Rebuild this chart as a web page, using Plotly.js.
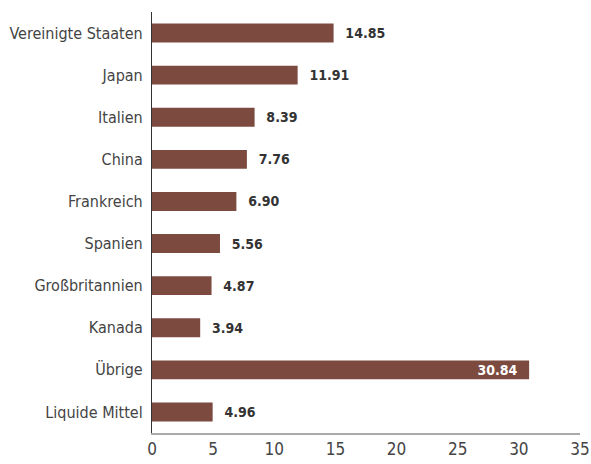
<!DOCTYPE html>
<html><head><meta charset="utf-8">
<script src="https://cdn.plot.ly/plotly-3.0.1.min.js"></script>
<style>html,body{margin:0;padding:0;background:#fff}#chart{width:591px;height:464px}</style>
</head><body><div id="chart"></div>
<script>
const categories = ["Vereinigte Staaten","Japan","Italien","China","Frankreich","Spanien","Großbritannien","Kanada","Übrige","Liquide Mittel"];
const values = [14.85, 11.91, 8.39, 7.76, 6.90, 5.56, 4.87, 3.94, 30.84, 4.96];
const tickVals = [0,5,10,15,20,25,30,35];

const positions = values.map(v => v > 20 ? 'inside' : 'outside');
const labels = values.map(v => v > 20 ? v.toFixed(2) + '  ' : '  ' + v.toFixed(2));
const FONT = '"DejaVu Sans Condensed", "Liberation Sans Narrow", sans-serif';

Plotly.newPlot('chart', [{
  type: 'bar', orientation: 'h',
  x: values, y: categories,
  marker: {color: '#7d4a40'},
  width: 0.45,
  text: labels,
  textposition: positions,
  insidetextanchor: 'end',
  constraintext: 'none',
  textangle: 0,
  textfont: {family: FONT, size: 14, color: '#333', weight: 'bold'},
  outsidetextfont: {family: FONT, size: 14, color: '#333', weight: 'bold'},
  insidetextfont: {family: FONT, size: 14, color: '#fff', weight: 'bold'},
  cliponaxis: false,
  hoverinfo: 'none'
}], {
  width: 591, height: 464,
  margin: {l: 152, r: 11, t: 12, b: 31},
  paper_bgcolor: '#fff', plot_bgcolor: '#fff',
  font: {family: FONT, size: 16, color: '#444'},
  showlegend: false,
  bargap: 0.55,
  uniformtext: {mode: false},
  xaxis: {range: [0, 35], tickvals: tickVals, showgrid: false, zeroline: false,
          showline: true, linecolor: '#aaa', linewidth: 2, ticks: '',
          tickfont: {family: FONT, size: 17, color: '#444'}, fixedrange: true},
  yaxis: {autorange: 'reversed', showgrid: false, zeroline: false,
          showline: true, linecolor: '#333', linewidth: 1.5, ticks: '',
          ticksuffix: ' ',
          tickfont: {family: FONT, size: 16, color: '#444'}, fixedrange: true}
}, {staticPlot: true});
</script></body></html>
